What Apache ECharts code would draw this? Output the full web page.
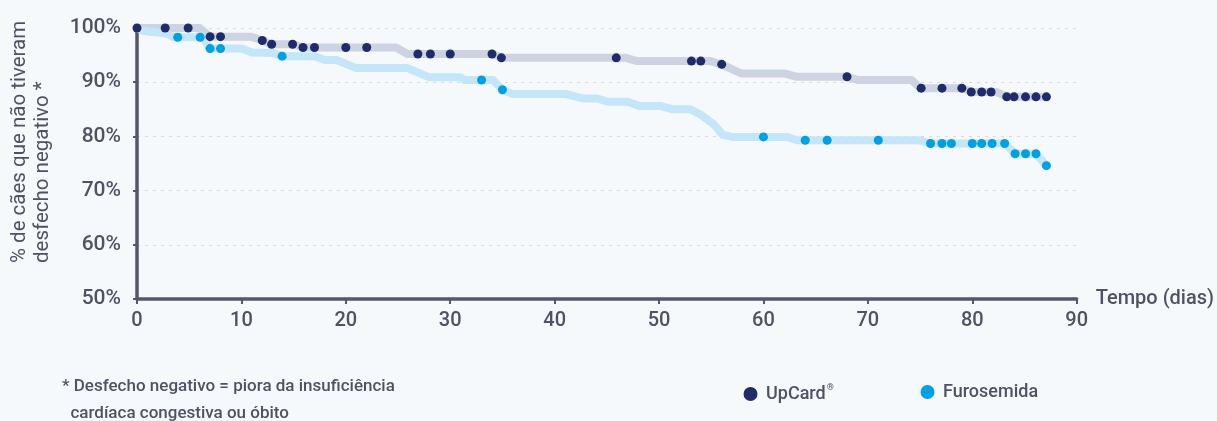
<!DOCTYPE html>
<html>
<head>
<meta charset="utf-8">
<script src="https://cdn.jsdelivr.net/npm/echarts@6/dist/echarts.min.js"></script>
<style>
html,body{margin:0;padding:0;background:#f5f9fc;}
#c{width:1217px;height:421px;}
</style>
</head>
<body>
<div id="c"></div>
<script>
// Kaplan-Meier curve corners (day, %)
const upcardCurveX = [0,6,7,10.9,12,12.8,15,15.9,24.8,25.9,34,35,46.8,47.9,54.9,56,57.9,62.1,63.2,68,69.1,74.2,75,79,80,82.3,83.3,87.1];
const upcardCurveY = [100,100,98.4,98.4,97.7,97.0,97.0,96.4,96.4,95.2,95.2,94.5,94.5,93.9,93.9,93.3,91.6,91.6,91.0,91.0,90.4,90.4,88.9,88.9,88.2,88.2,87.3,87.3];
const furoCurveX = [0,0.5,2.8,3.5,6.3,7,10,11,13,14,17,18,19.1,21,25.9,28,31,31.4,34.1,35,36,41.1,42.7,44.1,45.1,47,48.1,50.2,51.3,53,54,55.2,56.1,57,62.3,63.2,74.8,76,83.1,84.1,86.1,87.1];
const furoCurveY = [100,99.5,99.0,98.3,98.3,96.2,96.2,95.5,95.4,94.8,94.8,94.1,94.1,92.6,92.6,90.9,90.9,90.4,90.4,88.6,87.8,87.8,87.0,87.0,86.4,86.4,85.6,85.6,85.0,85.0,84.0,82.3,80.3,79.9,79.9,79.3,79.3,78.7,78.7,76.8,76.8,74.6];
// censored observations (dots)
const upcardDotX = [0,2.7,4.9,7,8,12,12.9,14.9,15.9,17,20,22,26.9,28.1,30,34,34.9,45.9,53.1,54,56,68,75.1,77.1,79,79.9,80.9,81.8,83.3,84,85.1,86.1,87.1];
const upcardDotY = [100,100,100,98.4,98.4,97.7,97.0,97.0,96.4,96.4,96.4,96.4,95.2,95.2,95.2,95.2,94.5,94.5,93.9,93.9,93.3,91.0,88.9,88.9,88.9,88.2,88.2,88.2,87.3,87.3,87.3,87.3,87.3];
const furoDotX = [3.9,6.05,7,8,13.9,33,35,60,64,66.1,71,76,77.1,78,80,80.9,81.9,83.1,84.1,85.1,86.1,87.1];
const furoDotY = [98.3,98.3,96.2,96.2,94.8,90.4,88.6,79.9,79.3,79.3,79.3,78.7,78.7,78.7,78.7,78.7,78.7,78.7,76.8,76.8,76.8,74.6];
const seriesNames = ['UpCard', 'Furosemida'];
const yAxisTitle = ['% de cães que não tiveram', 'desfecho negativo *'];
const xAxisTitle = 'Tempo (dias)';
const footnote = ['* Desfecho negativo = piora da insuficiência', '  cardíaca congestiva ou óbito'];

const zip = (a, b) => a.map((v, i) => [v, b[i]]);
const FONT = 'Roboto';
const TXT = '#505163';

const chart = echarts.init(document.getElementById('c'));
chart.setOption({
  backgroundColor: '#f5f9fc',
  animation: false,
  textStyle: { fontFamily: FONT },
  grid: { left: 137, right: 139, top: 28, bottom: 122 },
  xAxis: {
    type: 'value', min: 0, max: 90, interval: 10,
    name: xAxisTitle, nameLocation: 'end', nameGap: 19,
    nameTextStyle: { fontSize: 20, color: TXT, fontFamily: FONT, fontWeight: 500, verticalAlign: 'middle' },
    axisLine: { show: true, lineStyle: { color: '#55566b', width: 3.5 } },
    axisTick: { show: true, length: 5, lineStyle: { color: '#55566b', width: 2 } },
    axisLabel: { fontSize: 20, color: TXT, fontWeight: 500, margin: 12, fontFamily: FONT },
    splitLine: { show: false }
  },
  yAxis: {
    type: 'value', min: 50, max: 100, interval: 10,
    axisLine: { show: true, lineStyle: { color: '#55566b', width: 3.5 } },
    axisTick: { show: true, length: 4, lineStyle: { color: '#55566b', width: 2 } },
    axisLabel: { fontSize: 21, color: TXT, fontWeight: 500, margin: 16, formatter: '{value}%', fontFamily: FONT },
    splitLine: { show: true, lineStyle: { color: '#d6dbe2', width: 1, type: [3, 5] } }
  },
  legend: [
    {
      data: [seriesNames[0]], left: 738.5, top: 378, icon: 'circle', itemWidth: 21, itemHeight: 14,
      formatter: n => '{a|' + n + '}{s|®}',
      textStyle: { color: TXT, fontSize: 18, fontFamily: FONT, fontWeight: 500,
        rich: { a: { fontSize: 18, color: TXT, fontFamily: FONT, fontWeight: 500, lineHeight: 22 },
                s: { fontSize: 9, color: TXT, fontFamily: FONT, verticalAlign: 'top', lineHeight: 22, padding: [0, 0, 0, 1] } } }
    },
    {
      data: [seriesNames[1]], left: 915.5, top: 378, icon: 'circle', itemWidth: 21, itemHeight: 14,
      textStyle: { color: TXT, fontSize: 18, fontFamily: FONT, fontWeight: 500 }
    }
  ],
  graphic: [
    {
      type: 'text', x: 31, y: 263, rotation: Math.PI / 2,
      style: { text: yAxisTitle.join('\n'), fill: TXT, font: '20.5px ' + FONT, align: 'left', verticalAlign: 'middle', lineHeight: 23 }
    },
    {
      type: 'text', x: 62, y: 387,
      style: { text: footnote[0], fill: TXT, font: '500 17px ' + FONT, align: 'left', verticalAlign: 'middle' }
    },
    {
      type: 'text', x: 62, y: 414,
      style: { text: footnote[1], fill: TXT, font: '500 17px ' + FONT, align: 'left', verticalAlign: 'middle' }
    }
  ],
  series: [
    { name: 'UpCard curva', type: 'line', data: zip(upcardCurveX, upcardCurveY), showSymbol: false, silent: true,
      lineStyle: { color: '#cdd3e0', width: 8, cap: 'round', join: 'round' }, z: 2 },
    { name: 'Furosemida curva', type: 'line', data: zip(furoCurveX, furoCurveY), showSymbol: false, silent: true,
      lineStyle: { color: '#c4e6f8', width: 8, cap: 'round', join: 'round' }, z: 2 },
    { name: seriesNames[0], type: 'scatter', data: zip(upcardDotX, upcardDotY), symbolSize: 9,
      itemStyle: { color: '#1f2c69', opacity: 1 }, z: 4 },
    { name: seriesNames[1], type: 'scatter', data: zip(furoDotX, furoDotY), symbolSize: 9,
      itemStyle: { color: '#00a0e3', opacity: 1 }, z: 4 }
  ]
});
</script>
</body>
</html>
